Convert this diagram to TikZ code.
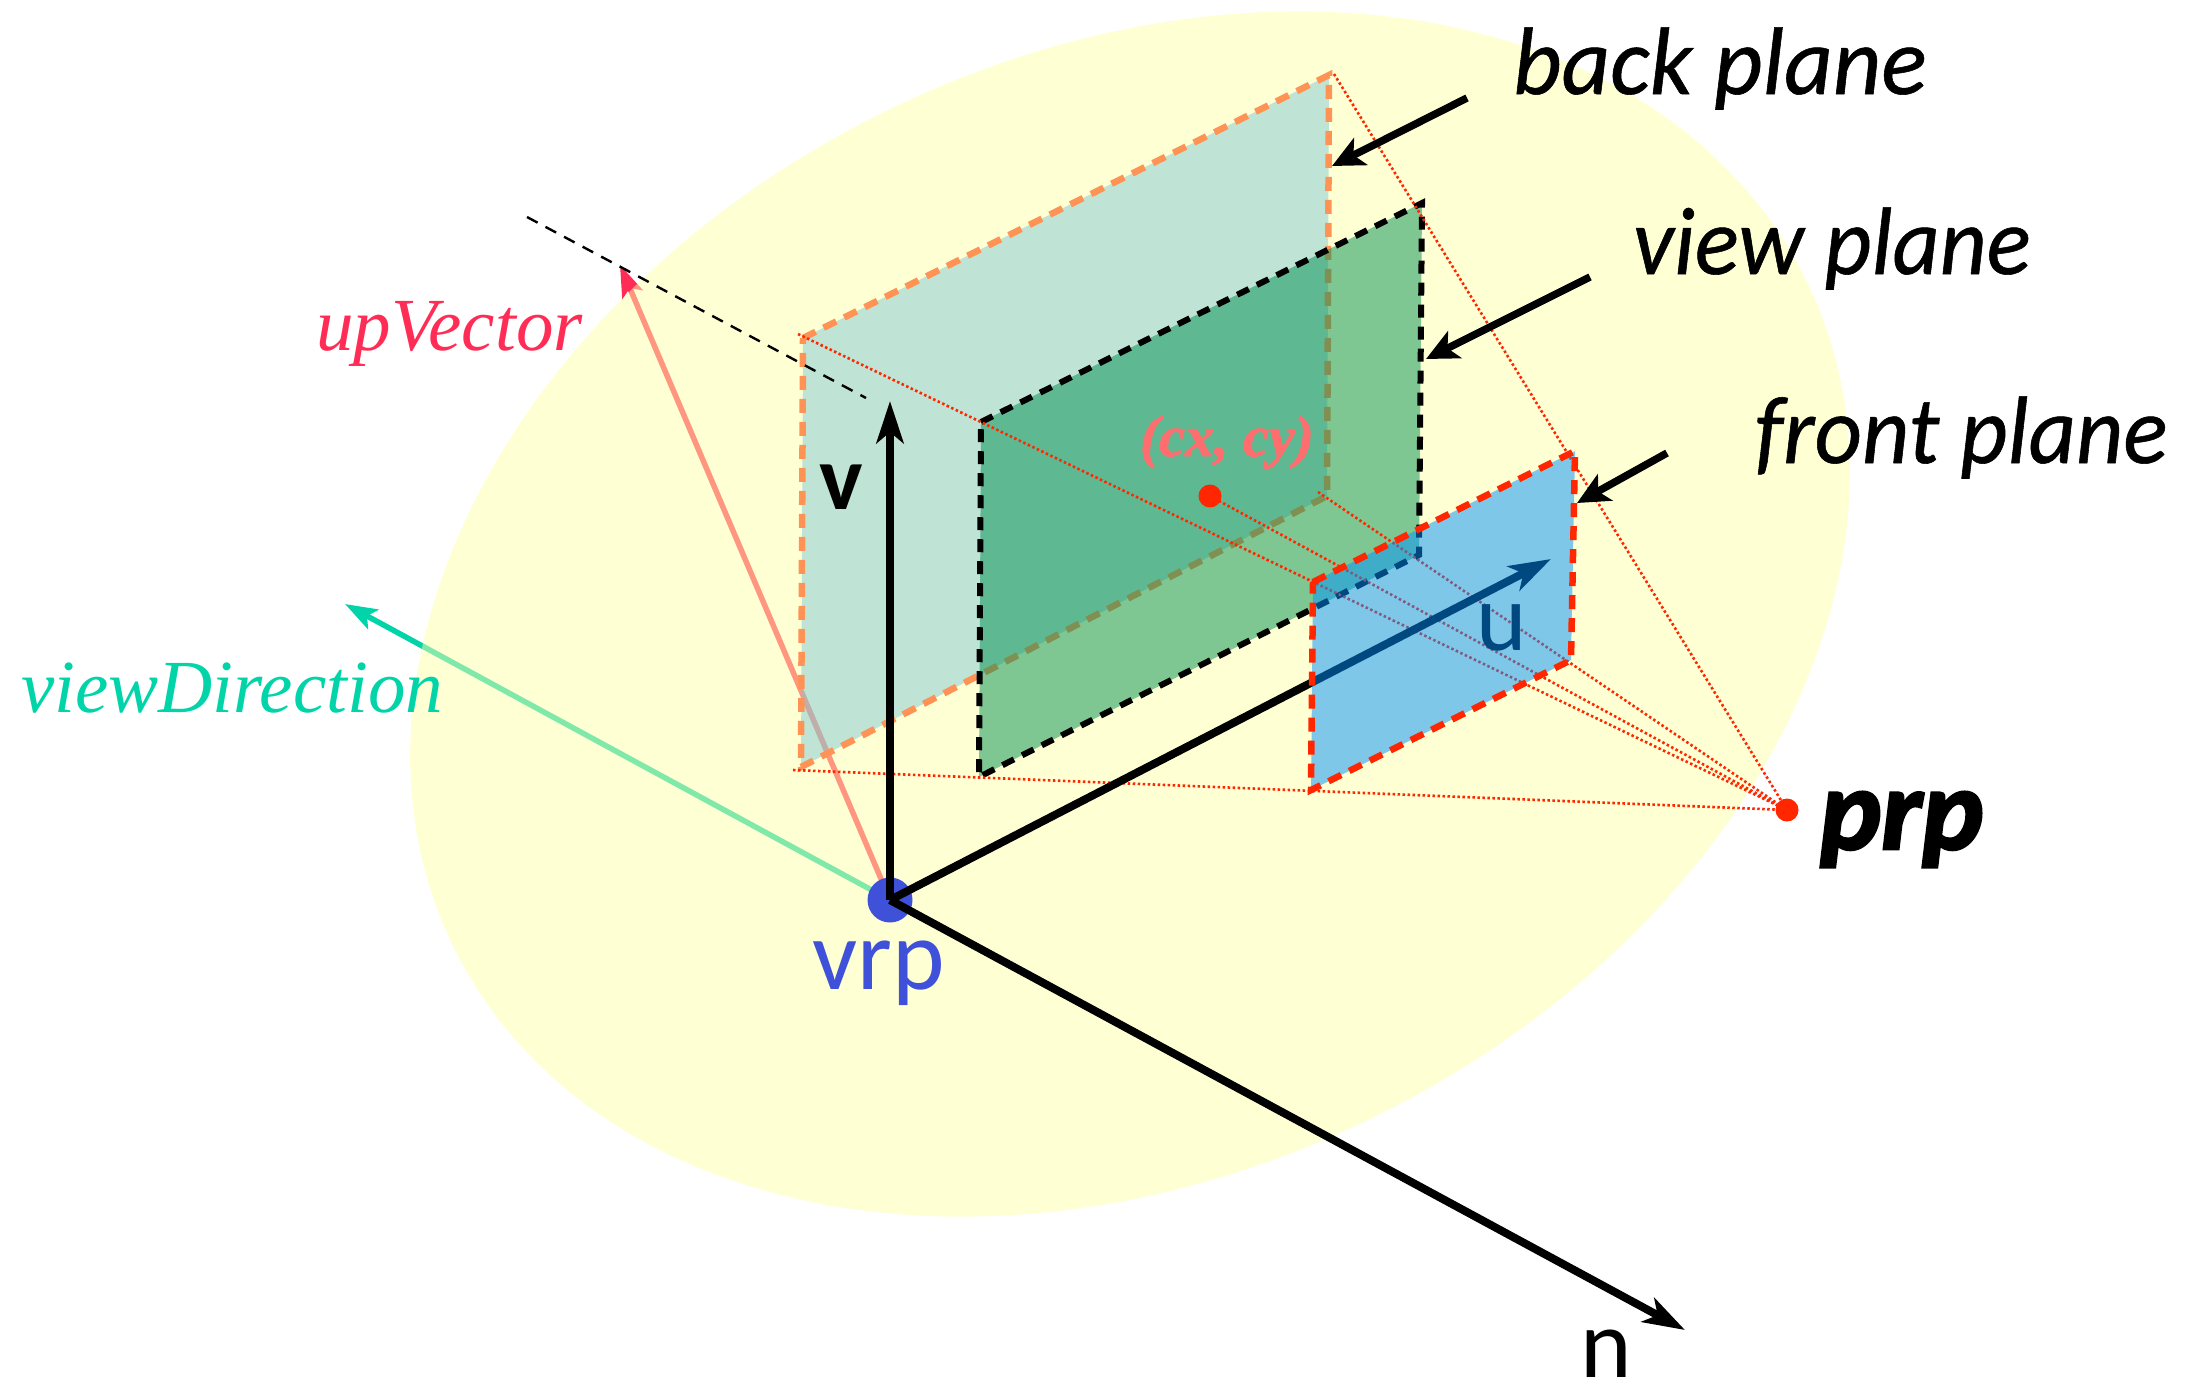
\documentclass[tikz,border=0pt]{standalone}
\usepackage{fontspec}
\usepackage{graphicx}
\usetikzlibrary{arrows.meta}
\newfontfamily\gillf{Carlito}[ItalicFeatures={FakeBold=.6}]
\newfontfamily\prpf{Carlito}[BoldItalicFeatures={FakeBold=2.5}]
\newfontfamily\timesf{Liberation Serif}
\newfontfamily\cxf{Liberation Serif}[BoldItalicFeatures={FakeBold=1.5}]
\definecolor{teal1}{HTML}{00D4A8}
\definecolor{up1}{HTML}{FF2D55}
\definecolor{red1}{HTML}{FF2600}
\definecolor{blue1}{HTML}{0091FF}
\definecolor{green1}{HTML}{008F51}
\definecolor{yellow1}{HTML}{FFFFAA}
\definecolor{vrpblue}{HTML}{3F51D9}
\definecolor{cxc}{HTML}{FF6E6E}
\tikzset{
  x=1pt,y=-1pt,
  lab/.style={anchor=base west,inner sep=0pt,outer sep=0pt},
  gilli/.style={lab,font=\gillf\itshape\fontsize{#1}{#1}\selectfont},
  gillu/.style={lab,font=\gillf\fontsize{#1}{#1}\selectfont},
  timesi/.style={lab,font=\timesf\itshape\fontsize{#1}{#1}\selectfont},
  planeedge/.style={line width=6.5pt,dash pattern=on 14pt off 9pt},
  viewedge/.style={line width=6pt,dash pattern=on 13pt off 9pt},
  dotline/.style={red1,line width=2.6pt,dash pattern=on 2.5pt off 2.5pt},
  bigarrow/.style={black,line width=8pt,-{Stealth[length=42pt,width=27pt,inset=11pt]}},
  callout/.style={black,line width=7.5pt,-{Stealth[length=32pt,width=30pt,inset=8pt]}},
  thinarrow/.style={line width=5.5pt,-{Stealth[length=32pt,width=22pt,inset=7pt]}},
  dot/.style={circle,fill=#1,draw=none,inner sep=0pt},
}
\begin{document}
\begin{tikzpicture}
\useasboundingbox (0,0) rectangle (2202,1384);
% coordinates
\coordinate (vrp) at (890,900);
\coordinate (prp) at (1787,810);
\coordinate (cxy) at (1210,496);
\coordinate (bTL) at (803,338); \coordinate (bTR) at (1329,75);
\coordinate (bBR) at (1327,496); \coordinate (bBL) at (801,767);
\coordinate (vTL) at (981,422); \coordinate (vTR) at (1422,203);
\coordinate (vBR) at (1419,555); \coordinate (vBL) at (979,777);
\coordinate (fTL) at (1313,582); \coordinate (fTR) at (1575,451);
\coordinate (fBR) at (1571,660); \coordinate (fBL) at (1311,790);
\coordinate (upTip) at (620,265);
\coordinate (dirTip) at (345,604);
\coordinate (vTip) at (890,401);
\coordinate (uTip) at (1551,559);
\coordinate (nTip) at (1685,1330);
\coordinate (dashA) at (527,217); \coordinate (dashB) at (866,398);
\coordinate (d1) at (798,334); \coordinate (d2) at (793,770);
\coordinate (d3) at (1318,492); \coordinate (d4) at (1334,74);
\coordinate (ca1) at (1467,98); \coordinate (ct1) at (1332,166);
\coordinate (ca2) at (1590,277); \coordinate (ct2) at (1426,359);
\coordinate (ca3) at (1667,453); \coordinate (ct3) at (1577,503);
% under the yellow
\draw[thinarrow,teal1] (vrp) -- (dirTip);
\draw[thinarrow,up1] (vrp) -- (upTip);
\fill[blue1,opacity=.5] (bTL) -- (bTR) -- (bBR) -- (bBL) -- cycle;
\draw[red1,planeedge] (bTL) -- (bTR) -- (bBR) -- (bBL) -- cycle;
% yellow blob
\fill[yellow1,opacity=.5,rotate around={26.4:(1130,614)}] (1130,614) ellipse [x radius=754,y radius=559];
% view plane
\fill[green1,opacity=.5] (vTL) -- (vTR) -- (vBR) -- (vBL) -- cycle;
\draw[black,viewedge] (vTL) -- (vTR) -- (vBR) -- (vBL) -- cycle;
% dotted
\draw[dotline] (d1) -- (prp);
\draw[dotline] (d2) -- (prp);
\draw[dotline] (d3) -- (prp);
\draw[dotline] (d4) -- (prp);
\draw[dotline] (cxy) -- (prp);
\draw[black,line width=2.4pt,dash pattern=on 12pt off 9pt] (dashA) -- (dashB);
% axes
\node[dot=vrpblue,minimum size=45pt] (vrpdot) at (vrp) {};
\draw[bigarrow] (vrp) -- (vTip);
\draw[bigarrow] (vrp) -- (uTip);
\draw[bigarrow] (vrp) -- (nTip);
\node[gillu=96,text=black] (ulab) at (1476,650) {u};
% front plane
\fill[blue1,opacity=.5] (fTL) -- (fTR) -- (fBR) -- (fBL) -- cycle;
\draw[red1,planeedge] (fTL) -- (fTR) -- (fBR) -- (fBL) -- cycle;
% callouts
\draw[callout] (ca1) -- (ct1);
\draw[callout] (ca2) -- (ct2);
\draw[callout] (ca3) -- (ct3);
% dots
\node[dot=red1,minimum size=23pt] (prpdot) at (prp) {};
\node[dot=red1,minimum size=23pt] (cxydot) at (cxy) {};
% labels
\node[gilli=96] (backl) at (1513,94) {\scalebox{.985}[1]{back plane}};
\node[gilli=96] (viewl) at (1633,274) {\scalebox{.955}[1]{view plane}};
\node[gilli=96] (frontl) at (1755,463) {\scalebox{.96}[1]{front plane}};
\node[lab,font=\prpf\itshape\bfseries\fontsize{116}{116}\selectfont] (prpl) at (1820,849) {prp};
\node[timesi=75,text=up1] (upl) at (316,350) {upVector};
\node[timesi=75,text=teal1] (dirl) at (21,712) {viewDirection};
\node[lab,font=\cxf\itshape\bfseries\fontsize{58}{58}\selectfont,text=cxc] (cxl) at (1140,456) {(cx, cy)};
\node[gillu=100,text=vrpblue] (vrpl) at (812,989) {vrp};
\node[lab,font=\gillf\bfseries\fontsize{92}{92}\selectfont] (vl) at (819,509) {v};
\node[gillu=98,text=black] (nl) at (1580,1377) {n};
\end{tikzpicture}
\end{document}
